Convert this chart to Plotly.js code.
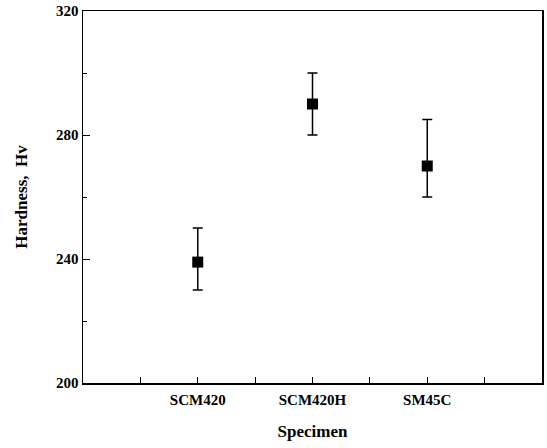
<!DOCTYPE html>
<html><head><meta charset="utf-8">
<script src="https://cdn.plot.ly/plotly-3.0.1.min.js"></script>
<style>html,body{margin:0;padding:0;background:#fff}</style>
</head><body><div id="chart" style="width:547px;height:448px"></div>
<script>
const specimens = ['SCM420', 'SCM420H', 'SM45C'];
const hardness = [239, 290, 270];
const errPlus = [11, 10, 15];
const errMinus = [9, 10, 10];
const yTickVals = [200, 240, 280, 320];

const xPos = specimens.map((s, i) => 2 * (i + 1));
const xTickVals = [1, 2, 3, 4, 5, 6, 7];
const xTickText = xTickVals.map(v => { const i = xPos.indexOf(v); return i >= 0 ? specimens[i] : ''; });

const font = {family: '"Liberation Serif", "Times New Roman", serif', color: '#000'};

Plotly.newPlot('chart', [{
  x: xPos, y: hardness, type: 'scatter', mode: 'markers',
  marker: {symbol: 'square', size: 11, color: '#000'},
  error_y: {type: 'data', symmetric: false, array: errPlus, arrayminus: errMinus, color: '#000', thickness: 1.5, width: 5}
}], {
  width: 547, height: 448,
  margin: {l: 83, r: 5, t: 11, b: 65},
  paper_bgcolor: '#fff', plot_bgcolor: '#fff',
  showlegend: false,
  font: font,
  xaxis: {
    range: [0, 8], tickmode: 'array', tickvals: xTickVals, ticktext: xTickText,
    ticks: 'inside', ticklen: 6, tickwidth: 1, tickcolor: '#000',
    showline: true, linecolor: '#000', linewidth: 1.5, mirror: true,
    showgrid: false, zeroline: false,
    ticklabelstandoff: 2,
    tickfont: {family: font.family, size: 15, color: '#000', weight: 'bold'},
    title: {text: '<b>Specimen</b>', font: {family: font.family, size: 17, color: '#000'}, standoff: 18}
  },
  yaxis: {
    range: [200, 320], tickmode: 'array', tickvals: yTickVals,
    ticks: 'inside', ticklen: 7, tickwidth: 1, tickcolor: '#000',
    minor: {dtick: 20, tick0: 200, ticks: 'inside', ticklen: 4, tickcolor: '#000', showgrid: false},
    showline: true, linecolor: '#000', linewidth: 1.5, mirror: true,
    showgrid: false, zeroline: false,
    tickfont: {family: font.family, size: 15, color: '#000', weight: 'bold'},
    title: {text: '<b>Hardness,\u00a0\u00a0Hv</b>', font: {family: font.family, size: 17, color: '#000'}, standoff: 24}
  }
}, {displayModeBar: false, staticPlot: true});
</script></body></html>
